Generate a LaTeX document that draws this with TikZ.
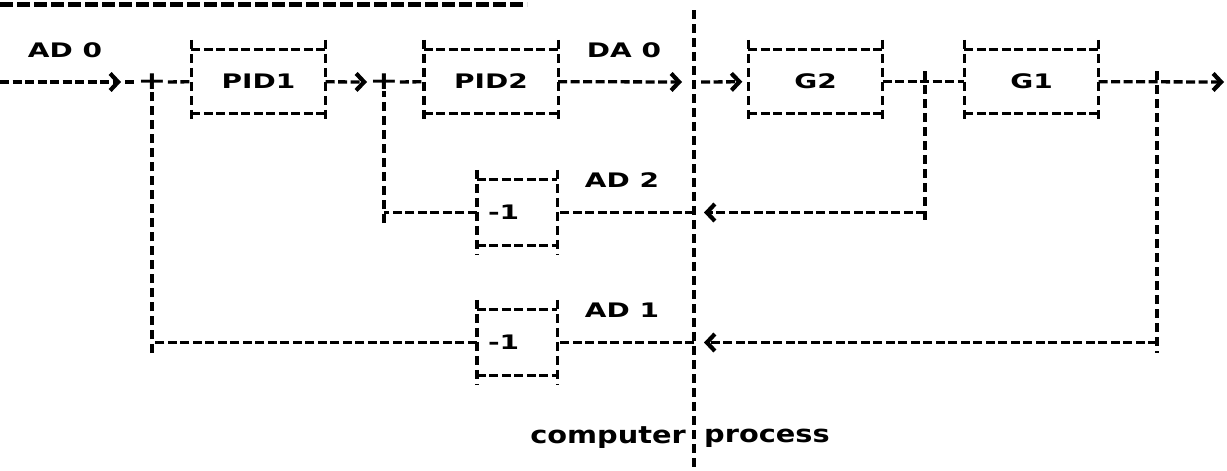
\documentclass[tikz,border=0pt]{standalone}
\usepackage{fontspec}
\usetikzlibrary{arrows.meta, positioning}
\newfontfamily\dotcaps[FakeStretch=1.4]{DejaVu Sans}
\newfontfamily\dotlow[FakeStretch=1.2]{DejaVu Sans}
\newcommand{\capsfont}{\dotcaps\bfseries\fontsize{20}{24}\selectfont}
\newcommand{\lowfont}{\dotlow\bfseries\fontsize{24}{28}\selectfont}

\tikzset{
  dline/.style={line width=3.3pt, dash pattern=on 9pt off 3.5pt},
  vline/.style={line width=3.4pt, dash pattern=on 9pt off 5pt},
  chev/.style={-{Straight Barb[length=8pt,width=17pt,line width=4.2pt]}},
  lbl/.style={inner sep=0pt, font=\capsfont},
  blk/.style={rectangle, inner sep=0pt, minimum width=134pt, minimum height=63pt, font=\capsfont},
  inv/.style={rectangle, inner sep=0pt, inner xsep=11pt, text width=58pt, align=left, minimum height=65pt, font=\capsfont},
  sumj/.style={inner sep=1pt, font=\dotcaps\bfseries\fontsize{25}{28}\selectfont},
}

\begin{document}
\begin{tikzpicture}[x=1pt,y=-1pt]
\useasboundingbox (0,0) rectangle (1227,471);
% rest of the line above
\draw[line width=5pt, dash pattern=on 13pt off 4pt] (0,4) -- (527,4);

% blocks
\node[blk] (pid1) at (258.5,81.5) {PID1};
\node[blk] (pid2) at (491,81.5) {PID2};
\node[blk] (g2) at (815.5,81.5) {G2};
\node[blk] (g1) at (1031.5,81.5) {G1};
\node[inv] (inv2) at (517,212.5) {-1};
\node[inv] (inv1) at (517,342.5) {-1};
\foreach \b in {pid1,pid2,g2,g1,inv2,inv1}{
  \draw[dline] (\b.north west) -- (\b.north east) (\b.south west) -- (\b.south east);
  \draw[vline] ([yshift=10pt]\b.north west) -- ([yshift=-10pt]\b.south west);
  \draw[vline] ([yshift=10pt]\b.north east) -- ([yshift=-10pt]\b.south east);
}

% labels
\node[lbl] (ad0) at (65,50) {AD 0};
\node[lbl] (da0) at (624,50) {DA 0};
\node[lbl] (ad2) at (622,180) {AD 2};
\node[lbl] (ad1) at (622,310) {AD 1};
\node[lbl, font=\lowfont, anchor=east] (comp) at (686,438) {computer};
\node[lbl, font=\lowfont, anchor=west] (proc) at (704,438) {process};

% junctions
\node[sumj] (sum1) at (152,82) {+};
\node[sumj] (sum2) at (384,82) {+};
\coordinate (tap2) at (925,82);
\coordinate (tap1) at (1157,82);

% computer / process border
\coordinate (dtop) at (694,10);
\coordinate (dbot) at (694,471);
\draw[vline] (dtop) -- (dbot);

% forward path
\coordinate (in) at (0,82);
\coordinate (a0) at (121,82);
\draw[dline, chev] (in) -- (a0);
\draw[dline] ([xshift=4pt]a0) -- (sum1);
\draw[dline] (sum1) -- (pid1);
\coordinate (a1) at (367,82);
\draw[dline, chev] (pid1) -- (a1);
\draw[dline] (sum2) -- (pid2);
\coordinate (a2) at (682,82);
\draw[dline, chev] (pid2) -- (a2);
\coordinate (dv0) at (694,82);
\draw[dline, chev, shorten <=7pt, shorten >=6pt] (dv0) -- (g2);
\draw[dline] (g2) -- (g1);
\coordinate (out) at (1224,82);
\draw[dline, chev] (g1) -- (out);

% inner loop
\coordinate (c2) at (925,212.5);
\coordinate (b2) at (704,212.5);
\draw[vline] ([yshift=11pt]tap2) -- (925,223);
\draw[dline, chev] (c2) -- (b2);
\coordinate (dv6) at (694,212.5);
\draw[dline] (dv6) -- (inv2);
\coordinate (s2c) at (384,212.5);
\draw[dline] (inv2) -- (s2c);
\draw[vline] (384,223) -- (sum2);

% outer loop
\coordinate (c1) at (1157,342.5);
\coordinate (b1) at (704,342.5);
\draw[vline] ([yshift=11pt]tap1) -- (1157,353);
\draw[dline, chev] (c1) -- (b1);
\coordinate (dv10) at (694,342.5);
\draw[dline] (dv10) -- (inv1);
\coordinate (s1c) at (152,342.5);
\draw[dline] (inv1) -- (s1c);
\draw[vline] (152,353) -- (sum1);
\end{tikzpicture}
\end{document}
